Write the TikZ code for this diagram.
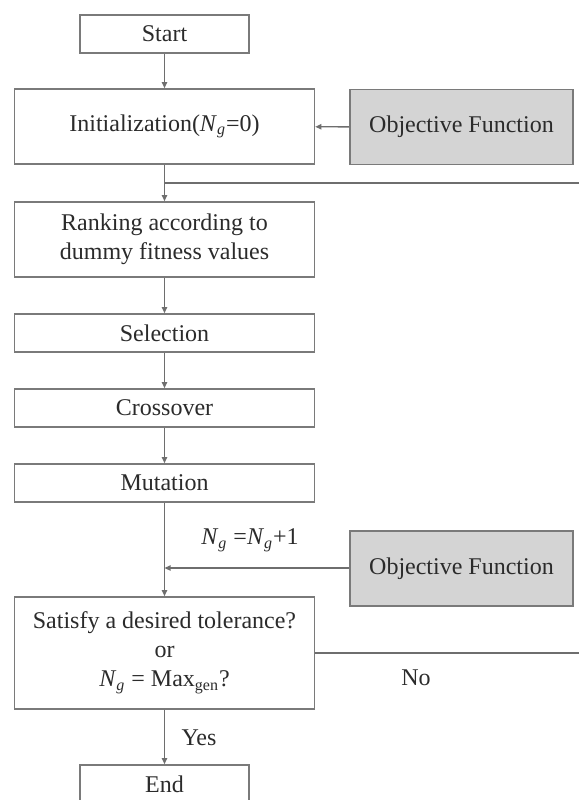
\documentclass[tikz,border=0pt]{standalone}
\usepackage{fontspec}
\setmainfont{Liberation Serif}
\usetikzlibrary{arrows.meta}
\definecolor{boxc}{HTML}{7A7A7A}
\definecolor{linec}{HTML}{6E6E6E}
\definecolor{txt}{HTML}{2B2B2B}
\definecolor{objfill}{HTML}{D4D4D4}
\newcommand\Ng{\textit{N}\textsubscript{\textit{g}}}
\begin{document}
\begin{tikzpicture}[x=0.5pt,y=-0.5pt,
  box/.style={draw=boxc, line width=0.8pt, minimum width=150pt, inner sep=0pt,
    align=center, text=txt, font=\fontsize{12}{14.5}\selectfont},
  objbox/.style={box, fill=objfill, minimum width=111.5pt},
  lbl/.style={text=txt, inner sep=0pt, font=\fontsize{12}{14}\selectfont},
  ln/.style={draw=linec, line width=0.7pt},
  arr/.style={ln, -{Triangle[length=3pt,width=2.6pt]}}]
\fill[white] (0,0) rectangle (579,800);
\useasboundingbox (0,0) rectangle (579,800);
\clip (0,0) rectangle (579,800);
\node[box, minimum width=84.5pt, minimum height=19pt] (start) at (164.5,34) {Start};
\node[box, minimum height=37.5pt] (init) at (164.5,126.5) {Initialization(\Ng=0)};
\node[objbox, minimum height=37.5pt] (obj1) at (461.5,127) {Objective Function};
\node[box, minimum height=37.5pt] (rank) at (164.5,239.5) {Ranking according to\\dummy fitness values};
\node[box, minimum height=19pt] (sel) at (164.5,333) {Selection};
\node[box, minimum height=19pt] (cross) at (164.5,408) {Crossover};
\node[box, minimum height=19pt] (mut) at (164.5,483) {Mutation};
\node[objbox, minimum height=37.5pt] (obj2) at (461.5,568.5) {Objective Function};
\node[box, minimum height=56pt] (dec) at (164.5,653) {Satisfy a desired tolerance?\\or\\\Ng{} = Max\textsubscript{gen}?};
\node[box, minimum width=84.5pt, minimum height=19pt] (end) at (164.5,784) {End};
\node[lbl] (ng) at (250,540) {\Ng{} =\Ng+1};
\node[lbl] (no) at (416,678) {No};
\node[lbl] (yes) at (199,738) {Yes};
\coordinate (j1) at (164.5,183);
\coordinate (r1) at (579,183);
\coordinate (j2) at (164.5,568);
\coordinate (r2) at (579,653);
\draw[arr] (start) -- (init);
\draw[arr] (obj1) -- (init);
\draw[arr] (init) -- (rank);
\draw[ln] (j1) -- (r1);
\draw[arr] (rank) -- (sel);
\draw[arr] (sel) -- (cross);
\draw[arr] (cross) -- (mut);
\draw[arr] (mut) -- (dec);
\draw[arr] (obj2.west |- j2) -- (j2);
\draw[ln] (dec.east |- r2) -- (r2);
\draw[arr] (dec) -- (end);
\end{tikzpicture}
\end{document}
